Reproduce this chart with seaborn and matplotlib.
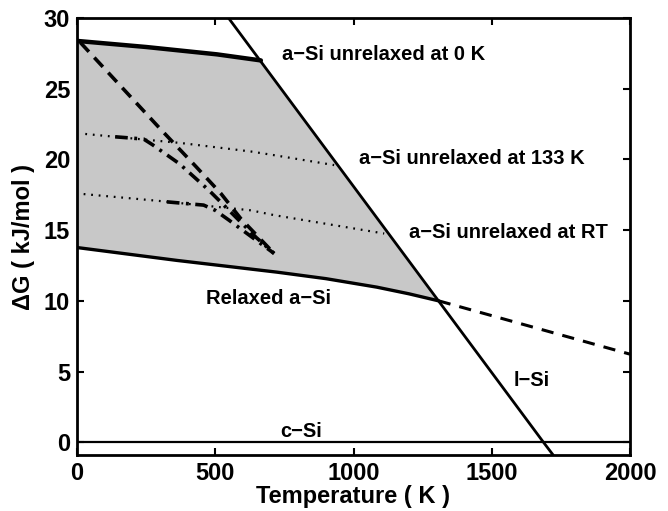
import numpy as np
import pandas as pd
import matplotlib
matplotlib.use("Agg")
import matplotlib.pyplot as plt
import seaborn as sns

# curves (T in K, dG in kJ/mol)
t_top = [0, 250, 506, 665]
g_top = [28.38, 27.95, 27.43, 27.0]

t_relaxed = [0, 361, 723, 900, 1084, 1200, 1308]
g_relaxed = [13.77, 12.86, 12.03, 11.57, 10.97, 10.5, 10.0]

t_relaxed_ext = [1308, 2000]
g_relaxed_ext = [10.0, 6.23]

t_liquid = [548, 1687, 1722]
g_liquid = [30.0, 0.0, -0.9]

t_crystal = [0, 2000]
g_crystal = [0.0, 0.0]

t_dot133 = [30, 376, 629, 713, 930]
g_dot133 = [21.8, 21.16, 20.56, 20.3, 19.6]

t_dotrt = [24, 289, 629, 713, 1111]
g_dotrt = [17.55, 17.08, 16.4, 16.06, 14.76]

t_dash = [12, 304, 430, 520, 593, 713]
g_dash = [28.27, 22.1, 19.5, 17.6, 15.8, 13.35]

t_dd133 = [138, 241, 273, 370, 478, 560, 647, 713]
g_dd133 = [21.6, 21.44, 21.04, 19.7, 17.8, 16.2, 14.5, 13.35]

t_ddrt = [325, 458, 500, 550, 640, 713]
g_ddrt = [17.0, 16.77, 16.4, 15.7, 14.4, 13.35]

labels = ["a\u2212Si unrelaxed at 0 K", "a\u2212Si unrelaxed at 133 K",
          "a\u2212Si unrelaxed at RT", "Relaxed a\u2212Si", "l\u2212Si", "c\u2212Si"]
label_t = [742, 1020, 1200, 465, 1580, 810]
label_g = [27.4, 20.1, 14.85, 10.2, 4.4, 0.75]

sns.set_style("ticks")
plt.rcParams['font.family'] = ['Liberation Sans', 'DejaVu Sans']
plt.rcParams['font.weight'] = 'bold'
for k in ['text.color', 'axes.labelcolor', 'xtick.color', 'ytick.color', 'axes.edgecolor']:
    plt.rcParams[k] = 'black'

fig = plt.figure(figsize=(6.68, 5.11), dpi=100)
ax = fig.add_axes([77/668, 1-455/511, 553/668, 437/511])

# shaded region: top curve, liquid line down to the relaxed curve, relaxed back
poly_t = t_top + [t_relaxed[-1]] + t_relaxed[::-1]
poly_g = g_top + [g_relaxed[-1]] + g_relaxed[::-1]
ax.fill(poly_t, poly_g, color="#c8c8c8", lw=0, zorder=1)

def draw(t, g, **kw):
    d = pd.DataFrame({"T": t, "G": g})
    sns.lineplot(data=d, x="T", y="G", ax=ax, sort=False, estimator=None,
                 color="black", zorder=3, **kw)

draw(t_top, g_top, linewidth=3.2)
draw(t_relaxed, g_relaxed, linewidth=2.4)
draw(t_relaxed_ext, g_relaxed_ext, linewidth=2.2, linestyle=(0, (4, 3)))
draw(t_liquid, g_liquid, linewidth=2.0)
draw(t_crystal, g_crystal, linewidth=1.6)
draw(t_dot133, g_dot133, linewidth=1.6, linestyle=(0, (0.8, 2.6)))
draw(t_dotrt, g_dotrt, linewidth=1.6, linestyle=(0, (0.8, 2.6)))
draw(t_dash, g_dash, linewidth=2.6, linestyle=(0, (3.5, 2.2)))
draw(t_dd133, g_dd133, linewidth=2.6, linestyle=(0, (3.5, 1.8, 0.8, 1.8)))
draw(t_ddrt, g_ddrt, linewidth=2.6, linestyle=(0, (3.5, 1.8, 0.8, 1.8)))

for s, x, y in zip(labels, label_t, label_g):
    ax.text(x, y, s, fontsize=14.5, fontweight="bold", va="center",
            ha="center" if s == "c\u2212Si" else "left")

ax.set_xlim(0, 2000)
ax.set_ylim(-0.9, 30)
ax.set_xticks([0, 500, 1000, 1500, 2000])
ax.set_yticks([0, 5, 10, 15, 20, 25, 30])
ax.tick_params(direction="in", length=5, width=1.5, top=True, right=True,
               labelsize=17, pad=5, colors="black")
for lab in ax.get_xticklabels() + ax.get_yticklabels():
    lab.set_fontweight("bold")
for sp in ax.spines.values():
    sp.set_visible(True)
    sp.set_linewidth(2.0)
    sp.set_color("black")
ax.set_xlabel("Temperature ( K )", fontsize=17, fontweight="bold", labelpad=0)
ax.set_ylabel("\u0394G ( kJ/mol )", fontsize=17, fontweight="bold", labelpad=6)

fig.savefig("out.png", dpi=100)
